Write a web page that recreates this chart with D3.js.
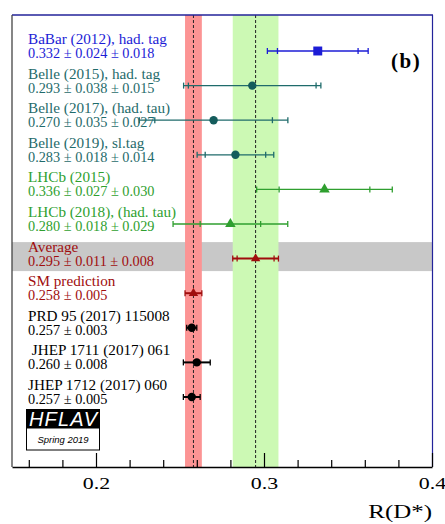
<!DOCTYPE html>
<html>
<head>
<meta charset="utf-8">
<script src="https://cdn.jsdelivr.net/npm/d3@7"></script>
<style>
  body { margin: 0; background: #fff; }
  svg { display: block; font-family: "Liberation Serif", "Times New Roman", serif; }
</style>
</head>
<body>
<div id="viz"></div>
<script>
const names = ["BaBar (2012), had. tag", "Belle (2015), had. tag", "Belle (2017), (had. tau)",
  "Belle (2019), sl.tag", "LHCb (2015)", "LHCb (2018), (had. tau)", "Average", "SM prediction",
  "PRD 95 (2017) 115008", "\u00a0JHEP 1711 (2017) 061", "JHEP 1712 (2017) 060"];
const groups = ["babar", "belle", "belle", "belle", "lhcb", "lhcb", "avg", "avg", "theory", "theory", "theory"];
const values = [0.332, 0.293, 0.270, 0.283, 0.336, 0.280, 0.295, 0.258, 0.257, 0.260, 0.257];
const statErr = [0.024, 0.038, 0.035, 0.018, 0.027, 0.018, 0.011, 0.005, 0.003, 0.008, 0.005];
const systErr = [0.018, 0.015, 0.027, 0.014, 0.030, 0.029, 0.008, null, null, null, null];
const xTicksMajor = [0.2, 0.3, 0.4];
const xTicksMinor = [0.16, 0.18, 0.22, 0.24, 0.26, 0.28, 0.32, 0.34, 0.36, 0.38];

const colors = { babar: "#1c1cd6", belle: "#1f6b6b", lhcb: "#2f9f2f", avg: "#a00d0d", theory: "#000" };
const shapes = { babar: d3.symbolSquare, belle: d3.symbolCircle, lhcb: d3.symbolTriangle, avg: d3.symbolTriangle, theory: d3.symbolCircle };

const w = 445, h = 524;
const pL = 12, pR = 432, pT = 15, pB = 467;

const svg = d3.select("#viz").append("svg").attr("width", w).attr("height", h);

const x = d3.scaleLinear().domain([0.15, 0.4]).range([pL, pR]);
const y = d3.scaleLinear().domain([0, names.length - 1]).range([51, 397]);

const rows = names.map((n, i) => {
  const tot = systErr[i] == null ? statErr[i] : Math.sqrt(statErr[i] ** 2 + systErr[i] ** 2);
  return { i, name: n, g: groups[i], v: values[i], stat: statErr[i], syst: systErr[i], tot };
});
const avg = rows[6], sm = rows[7];

// gray band behind the average
svg.append("rect")
  .attr("x", pL).attr("width", pR - pL + 1)
  .attr("y", y(6) - 16.5).attr("height", 29)
  .attr("fill", "#c8c8c8");

// SM and average bands
svg.append("rect")
  .attr("x", x(sm.v - sm.tot)).attr("width", x(sm.v + sm.tot) - x(sm.v - sm.tot))
  .attr("y", pT).attr("height", pB - pT)
  .attr("fill", "#fc9494");
svg.append("rect")
  .attr("x", x(avg.v - avg.tot)).attr("width", x(avg.v + avg.tot) - x(avg.v - avg.tot))
  .attr("y", pT).attr("height", pB - pT)
  .attr("fill", "#ccf9b4");
[sm.v, avg.v].forEach(v => {
  svg.append("line")
    .attr("x1", x(v)).attr("x2", x(v)).attr("y1", pT).attr("y2", pB)
    .attr("stroke", "#222").attr("stroke-width", 1).attr("stroke-dasharray", "3,2");
});

// labels
const lab = svg.append("g");
rows.forEach(r => {
  lab.append("text").attr("x", 28).attr("y", y(r.i) - 7)
    .attr("fill", colors[r.g]).style("font-size", "15.2px").style("white-space", "pre")
    .text(r.name);
  const sub = r.syst == null
    ? `${r.v.toFixed(3)} \u00b1 ${r.stat.toFixed(3)}`
    : `${r.v.toFixed(3)} \u00b1 ${r.stat.toFixed(3)} \u00b1 ${r.syst.toFixed(3)}`;
  lab.append("text").attr("x", 28).attr("y", y(r.i) + 7)
    .attr("fill", colors[r.g]).style("font-size", "14.3px")
    .text(sub);
});

// error bars
const bars = svg.append("g");
rows.forEach(r => {
  const c = colors[r.g];
  const yy = y(r.i);
  const sw = r.i >= 6 ? 2 : 1.3;
  bars.append("line")
    .attr("x1", x(r.v - r.tot)).attr("x2", x(r.v + r.tot)).attr("y1", yy).attr("y2", yy)
    .attr("stroke", c).attr("stroke-width", sw);
  const caps = [r.v - r.tot, r.v + r.tot];
  if (r.syst != null) caps.push(r.v - r.stat, r.v + r.stat);
  caps.forEach(cv => {
    bars.append("line")
      .attr("x1", x(cv)).attr("x2", x(cv)).attr("y1", yy - 3).attr("y2", yy + 3)
      .attr("stroke", c).attr("stroke-width", 1.3);
  });
  const size = r.g === "babar" ? 80 : r.g === "avg" ? 38 : r.g === "lhcb" ? 48 : 55;
  bars.append("path")
    .attr("d", d3.symbol().type(shapes[r.g]).size(size))
    .attr("transform", `translate(${x(r.v)},${yy})`)
    .attr("fill", r.g === "belle" ? "#145c5c" : c);
});

// (b)
svg.append("text").attr("x", 391).attr("y", 68)
  .style("font-size", "21px").style("font-weight", "bold").attr("letter-spacing", "1.5px")
  .text("(b)");

// HFLAV logo
const logo = svg.append("g");
logo.append("rect").attr("x", 26).attr("y", 409).attr("width", 74).attr("height", 19).attr("fill", "#000");
logo.append("rect").attr("x", 26.5).attr("y", 428).attr("width", 73).attr("height", 22)
  .attr("fill", "#fff").attr("stroke", "#000").attr("stroke-width", 1);
logo.append("text").attr("x", 63).attr("y", 426).attr("text-anchor", "middle")
  .style("font-family", "'Liberation Sans', Arial, sans-serif").style("font-style", "italic")
  .style("font-size", "20px").attr("textLength", 68).attr("fill", "#fff").text("HFLAV");
logo.append("text").attr("x", 63).attr("y", 443).attr("text-anchor", "middle")
  .style("font-family", "'Liberation Sans', Arial, sans-serif").style("font-style", "italic")
  .style("font-size", "9.5px").attr("fill", "#000").text("Spring 2019");

// frame
svg.append("line").attr("x1", pL).attr("x2", pR + 1).attr("y1", pT).attr("y2", pT)
  .attr("stroke", "#23239a").attr("stroke-width", 1.5);
svg.append("line").attr("x1", pR + 0.5).attr("x2", pR + 0.5).attr("y1", pT).attr("y2", pB)
  .attr("stroke", "#23239a").attr("stroke-width", 1.2);
svg.append("line").attr("x1", pL).attr("x2", pL).attr("y1", pT).attr("y2", pB)
  .attr("stroke", "#444").attr("stroke-width", 1.3);

// x axis, ticks pointing inward
svg.append("g").attr("transform", `translate(0,${pB})`)
  .call(d3.axisBottom(x).tickValues(xTicksMinor).tickSizeInner(-7).tickSizeOuter(0).tickFormat(""))
  .call(g => g.select(".domain").remove())
  .selectAll("line").attr("stroke-width", 1.2);
const ax = svg.append("g").attr("transform", `translate(0,${pB})`)
  .call(d3.axisBottom(x).tickValues(xTicksMajor).tickSizeInner(-14).tickSizeOuter(0).tickPadding(10)
    .tickFormat(d3.format(".1f")));
ax.select(".domain").attr("stroke-width", 1.5);
ax.selectAll("line").attr("stroke-width", 1.2);
ax.selectAll("text").style("font-family", "'Liberation Serif', serif").style("font-size", "17.5px")
  .attr("fill", "#000").attr("transform", "scale(1.25,1)");

svg.append("text").attr("transform", `translate(${pR},518) scale(1.28,1)`).attr("text-anchor", "end")
  .style("font-size", "19.5px").text("R(D*)");
</script>
</body>
</html>
